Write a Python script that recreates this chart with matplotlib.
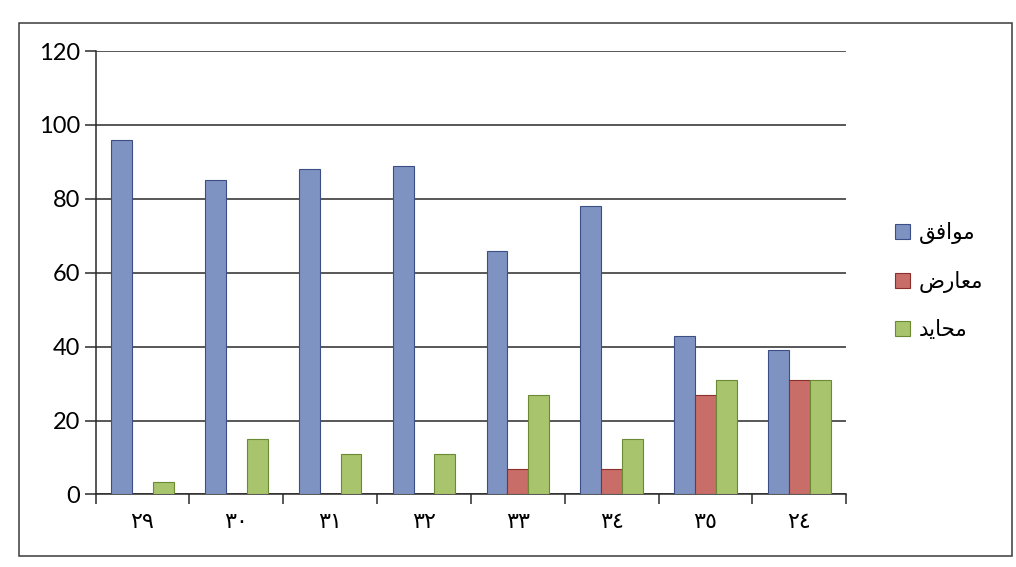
import matplotlib
matplotlib.use('Agg')
import matplotlib.pyplot as plt
import numpy as np
from matplotlib.patches import Rectangle, Patch

# Item numbers on the x axis (Arabic-Indic digits):
categories = ['٢٩', '٣٠', '٣١', '٣٢', '٣٣', '٣٤', '٣٥', '٢٤']

# Responses per item:
agree = [96, 85, 88, 89, 66, 78, 43, 39]
disagree = [0, 0, 0, 0, 7, 7, 27, 31]
neutral = [3.3, 15, 11, 11, 27, 15, 31, 31]

# Legend labels, written in presentation forms so they join right-to-left:
# موافق / معارض / محايد
seriesLabels = ['\uFED6\uFED3\uFE8D\uFEEE\uFEE3',
                '\uFEBD\uFEAD\uFE8E\uFECC\uFEE3',
                '\uFEAA\uFEF3\uFE8E\uFEA4\uFEE3']

yTicks = [0, 20, 40, 60, 80, 100, 120]

# Colours of the three series (face, edge):
colours = [('#7f93c2', '#3b4f86'),
           ('#c96d68', '#8a2f2c'),
           ('#a8c46c', '#6b8a33')]

fig = plt.figure(figsize=(10.16, 5.67), dpi=100)
fig.patch.set_facecolor('white')

# Outer chart frame:
fig.patches.append(Rectangle((0.019, 0.02), 0.977, 0.94, transform=fig.transFigure,
                             fill=False, edgecolor='#3a3a3a', linewidth=1.1))

ax = fig.add_axes([0.094, 0.128, 0.739, 0.782])

x = np.arange(len(categories))
barWidth = 0.222
for i, (values, (face, edge)) in enumerate(zip([agree, disagree, neutral], colours)):
    ax.bar(x + (i - 1) * barWidth, values, width=barWidth, color=face,
           edgecolor=edge, linewidth=0.8, label=seriesLabels[i], zorder=3)

# Axis limits and ticks:
ax.set_xlim(-0.5, len(categories) - 0.5)
ax.set_ylim(0, 120)
ax.set_yticks(yTicks)
ax.set_yticklabels([str(v) for v in yTicks], fontsize=17, family='Lato')
ax.set_xticks(np.arange(len(categories) + 1) - 0.5, minor=False)
ax.set_xticklabels([''] * (len(categories) + 1))
ax.set_xticks(x, minor=True)
ax.set_xticklabels(categories, minor=True, fontsize=16, family='DejaVu Sans')
ax.tick_params(axis='x', which='minor', length=0, pad=13)
ax.tick_params(axis='x', which='major', direction='out', length=7, width=1.1, color='#2a2a2a')
ax.tick_params(axis='y', direction='out', length=8, width=1.1, color='#2a2a2a', pad=3)

# Gridlines and spines:
ax.yaxis.grid(True, color='#2a2a2a', linewidth=1.1, zorder=0)
ax.set_axisbelow(True)
for side in ['top', 'right']:
    ax.spines[side].set_visible(False)
for side in ['left', 'bottom']:
    ax.spines[side].set_color('#2a2a2a')
    ax.spines[side].set_linewidth(1.1)

# Legend on the right:
handles = [Patch(facecolor=f, edgecolor=e, linewidth=0.8) for f, e in colours]
fig.legend(handles, seriesLabels, loc='center left', bbox_to_anchor=(0.862, 0.505),
           frameon=False, prop={'family': 'DejaVu Sans', 'size': 15.5},
           handlelength=0.7, handleheight=0.7, handletextpad=0.4, labelspacing=1.25)

plt.savefig('out.png', dpi=100)
